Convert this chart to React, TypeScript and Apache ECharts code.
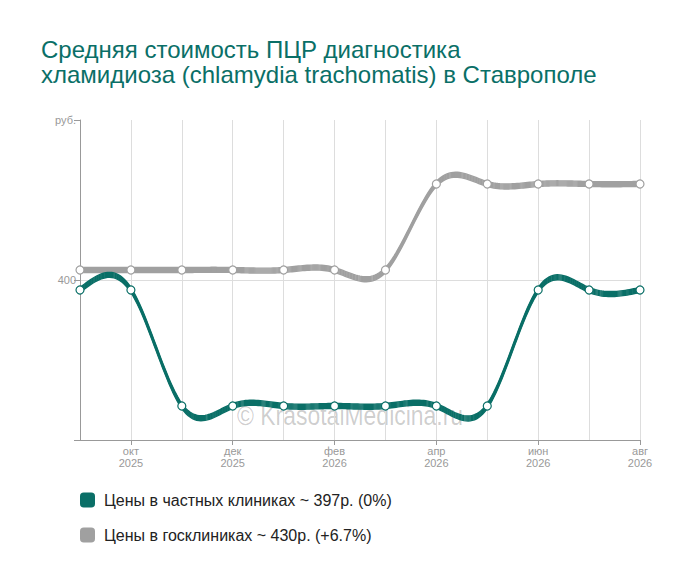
import { useEffect, useRef } from 'react';
import * as echarts from 'echarts';

const months = [
  'сен 2025', 'окт 2025', 'ноя 2025', 'дек 2025', 'янв 2026', 'фев 2026',
  'мар 2026', 'апр 2026', 'май 2026', 'июн 2026', 'июл 2026', 'авг 2026',
];
const privatePrices = [375, 375, 85, 85, 85, 85, 85, 85, 85, 375, 375, 375];
const statePrices = [425, 425, 425, 425, 425, 425, 425, 640, 640, 640, 640, 640];
const yTicks = [0, 400, 800];

const privateName = 'Цены в частных клиниках ~ 397р. (0%)';
const stateName = 'Цены в госклиниках ~ 430р. (+6.7%)';

const TEAL = '#0a6f67';
const GREY = '#a0a0a0';

// natural cubic spline control points (same maths as d3 curveNatural)
function controlPoints(x: number[]) {
  const n = x.length - 1;
  const a = new Array(n), b = new Array(n), r = new Array(n);
  let m;
  a[0] = 0; b[0] = 2; r[0] = x[0] + 2 * x[1];
  for (let i = 1; i < n - 1; ++i) { a[i] = 1; b[i] = 4; r[i] = 4 * x[i] + 2 * x[i + 1]; }
  a[n - 1] = 2; b[n - 1] = 7; r[n - 1] = 8 * x[n - 1] + x[n];
  for (let i = 1; i < n; ++i) { m = a[i] / b[i - 1]; b[i] -= m; r[i] -= m * r[i - 1]; }
  a[n - 1] = r[n - 1] / b[n - 1];
  for (let i = n - 2; i >= 0; --i) a[i] = (r[i] - a[i + 1]) / b[i];
  b[n - 1] = (x[n] + a[n - 1]) / 2;
  for (let i = 0; i < n - 1; ++i) b[i] = 2 * x[i + 1] - a[i + 1];
  return [a, b];
}

function bezierPoint(p0: number, c1: number, c2: number, p1: number, t: number) {
  const u = 1 - t;
  return u * u * u * p0 + 3 * u * u * t * c1 + 3 * u * t * t * c2 + t * t * t * p1;
}

function ribbon(values: number[], color: string) {
  return (params: any, api: any) => {
    if (params.dataIndex !== 0) return { type: 'group', children: [] };
    const pts = values.map((v, i) => api.coord([i, v]));
    const xs = pts.map((p: number[]) => p[0]);
    const ys = pts.map((p: number[]) => p[1]);
    const [ax, bx] = controlPoints(xs);
    const [ay, by] = controlPoints(ys);
    const curve: number[][] = [];
    for (let i = 0; i < pts.length - 1; i++) {
      for (let s = 0; s < 24; s++) {
        const t = s / 24;
        curve.push([
          bezierPoint(xs[i], ax[i], bx[i], xs[i + 1], t),
          bezierPoint(ys[i], ay[i], by[i], ys[i + 1], t),
        ]);
      }
    }
    curve.push(pts[pts.length - 1]);
    // thin strands stacked vertically give the striped band
    const children = [-2.5, -1.5, -0.5, 0.5, 1.5, 2.5].map((dy) => ({
      type: 'polyline',
      shape: { points: curve.map((p) => [p[0], p[1] + dy]) },
      style: { stroke: color, lineWidth: 1.4, fill: 'none' },
    }));
    return { type: 'group', children };
  };
}

export default function App(): JSX.Element {
  const chartRef = useRef<HTMLDivElement>(null);

  useEffect(() => {
    if (!chartRef.current) return;
    const chart = echarts.init(chartRef.current, undefined, { renderer: 'svg' });

    const option: echarts.EChartsOption = {
      animation: false,
      backgroundColor: '#fff',
      textStyle: { fontFamily: 'Liberation Sans, Arial, sans-serif' },
      title: {
        text: 'Средняя стоимость ПЦР диагностика\nхламидиоза (chlamydia trachomatis) в Ставрополе',
        left: 36,
        top: 32,
        textStyle: {
          color: TEAL,
          fontSize: 24,
          fontWeight: 'normal',
          lineHeight: 25,
          fontFamily: 'Liberation Sans, Arial, sans-serif',
        },
      },
      legend: {
        orient: 'vertical',
        left: 75,
        top: 487,
        itemWidth: 15,
        itemHeight: 15,
        itemGap: 19,
        icon: 'roundRect',
        selectedMode: false,
        textStyle: { fontSize: 16, color: '#222', padding: [0, 0, 0, 4] },
        data: [
          { name: privateName, itemStyle: { color: TEAL, borderWidth: 0 } },
          { name: stateName, itemStyle: { color: GREY, borderWidth: 0 } },
        ],
      },
      grid: { left: 80, right: 60, top: 120, bottom: 143 },
      xAxis: {
        type: 'category',
        data: months,
        boundaryGap: false,
        axisLine: { lineStyle: { color: '#999' } },
        axisTick: {
          show: true,
          length: 5,
          interval: (i: number) => i % 2 === 1,
          lineStyle: { color: '#999' },
        },
        axisLabel: {
          interval: (i: number) => i % 2 === 1,
          formatter: (v: string) => v.replace(' ', '\n'),
          color: '#999',
          fontSize: 11,
          lineHeight: 12,
          margin: 5,
        },
        splitLine: { show: true, interval: 0, lineStyle: { color: '#ddd' } },
      },
      yAxis: {
        type: 'value',
        min: yTicks[0],
        max: yTicks[2],
        interval: yTicks[1] - yTicks[0],
        axisLine: { show: true, lineStyle: { color: '#999' } },
        axisTick: { show: true, length: 6, lineStyle: { color: '#999' } },
        axisLabel: {
          color: '#999',
          fontSize: 11,
          margin: 4,
          formatter: (v: number) => (v === yTicks[2] ? 'руб.' : v === yTicks[0] ? '' : String(v)),
        },
        splitLine: {
          show: true,
          lineStyle: { color: ['rgba(0,0,0,0)', '#ddd', 'rgba(0,0,0,0)'] },
        },
      },
      graphic: [
        {
          type: 'text',
          x: 237,
          y: 401,
          scaleX: 0.82,
          z: 0,
          silent: true,
          style: {
            text: '© KrasotaiMedicina.ru',
            fontSize: 28,
            verticalAlign: 'top',
            fill: 'rgba(0,0,0,0.2)',
            fontFamily: 'Liberation Sans, Arial, sans-serif',
          },
        },
      ],
      series: [
        {
          name: stateName,
          type: 'custom',
          silent: true,
          data: statePrices.map((v, i) => [i, v]),
          renderItem: ribbon(statePrices, GREY) as any,
          z: 2,
        },
        {
          name: privateName,
          type: 'custom',
          silent: true,
          data: privatePrices.map((v, i) => [i, v]),
          renderItem: ribbon(privatePrices, TEAL) as any,
          z: 3,
        },
        {
          name: stateName,
          type: 'scatter',
          data: statePrices,
          symbol: 'circle',
          symbolSize: 8,
          itemStyle: { color: '#fff', borderColor: GREY, borderWidth: 1.2, opacity: 1 },
          z: 5,
        },
        {
          name: privateName,
          type: 'scatter',
          data: privatePrices,
          symbol: 'circle',
          symbolSize: 8,
          itemStyle: { color: '#fff', borderColor: TEAL, borderWidth: 1.2, opacity: 1 },
          z: 6,
        },
      ],
    };

    chart.setOption(option);

    return () => {
      chart.dispose();
    };
  }, []);

  return (
    <div
      ref={chartRef}
      style={{ position: 'fixed', left: 0, top: 0, width: 700, height: 583 }}
    />
  );
}
